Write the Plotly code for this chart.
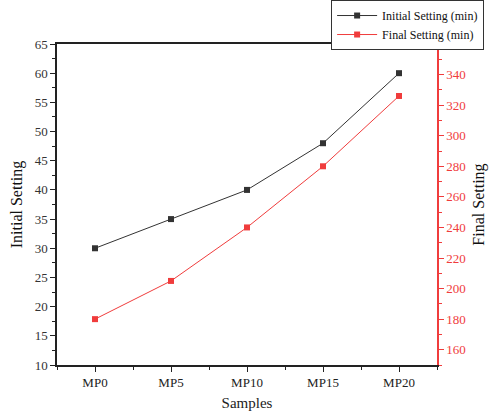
import plotly.graph_objects as go

samples = ["MP0", "MP5", "MP10", "MP15", "MP20"]
initial_setting = [30, 35, 40, 48, 60]
final_setting = [180, 205, 240, 280, 326]

FONT = "Liberation Serif, Times New Roman, serif"
RED = "#f03c3c"

fig = go.Figure()
fig.add_trace(go.Scatter(
    x=samples, y=initial_setting, name="Initial Setting (min)",
    mode="lines+markers",
    line=dict(color="#333333", width=1),
    marker=dict(symbol="square", size=6, color="#333333"),
    yaxis="y"))
fig.add_trace(go.Scatter(
    x=samples, y=final_setting, name="Final Setting (min)",
    mode="lines+markers",
    line=dict(color="#f03c3c", width=1),
    marker=dict(symbol="square", size=6, color="#f03c3c"),
    yaxis="y2"))

fig.update_layout(
    width=489, height=417,
    margin=dict(l=57, r=52, t=44, b=52, autoexpand=False),
    paper_bgcolor="white", plot_bgcolor="white",
    font=dict(family=FONT, size=13, color="#222"),
    showlegend=True,
    legend=dict(x=1.124, y=1.137, xanchor="right", yanchor="top",
                bgcolor="white", bordercolor="#333", borderwidth=1,
                font=dict(family=FONT, size=12, color="#111"),
                tracegroupgap=0, itemwidth=40),
    xaxis=dict(
        title=dict(text="Samples", font=dict(family=FONT, size=15, color="#222"), standoff=8),
        range=[-0.5, 4.5], showgrid=False, zeroline=False,
        showline=True, linecolor="#222", linewidth=1.5, mirror=True,
        ticks="outside", ticklen=5, tickwidth=1.2, tickcolor="#222",
        minor=dict(ticks="outside", ticklen=3, tickcolor="#222", tickvals=[-0.5, 0.5, 1.5, 2.5, 3.5, 4.5]),
        tickfont=dict(family=FONT, size=13, color="#222")),
    yaxis=dict(
        title=dict(text="Initial Setting", font=dict(family=FONT, size=16, color="#111"), standoff=8),
        range=[10, 65], dtick=5, showgrid=False, zeroline=False,
        showline=True, linecolor="#222", linewidth=1.5,
        ticks="outside", ticklen=5, tickwidth=1.2, tickcolor="#222",
        minor=dict(ticks="outside", ticklen=3, tickcolor="#222", dtick=2.5),
        tickfont=dict(family=FONT, size=13, color="#333")),
    yaxis2=dict(
        title=dict(text="Final Setting", font=dict(family=FONT, size=16, color="#111"), standoff=8),
        overlaying="y", side="right",
        range=[150, 360], dtick=20, tick0=160, showgrid=False, zeroline=False,
        showline=True, linecolor=RED, linewidth=1.5,
        ticks="outside", ticklen=5, tickwidth=1.2, tickcolor=RED,
        minor=dict(ticks="outside", ticklen=3, tickcolor=RED, dtick=10),
        tickfont=dict(family=FONT, size=13, color=RED)),
)

fig.write_html("out.html")
